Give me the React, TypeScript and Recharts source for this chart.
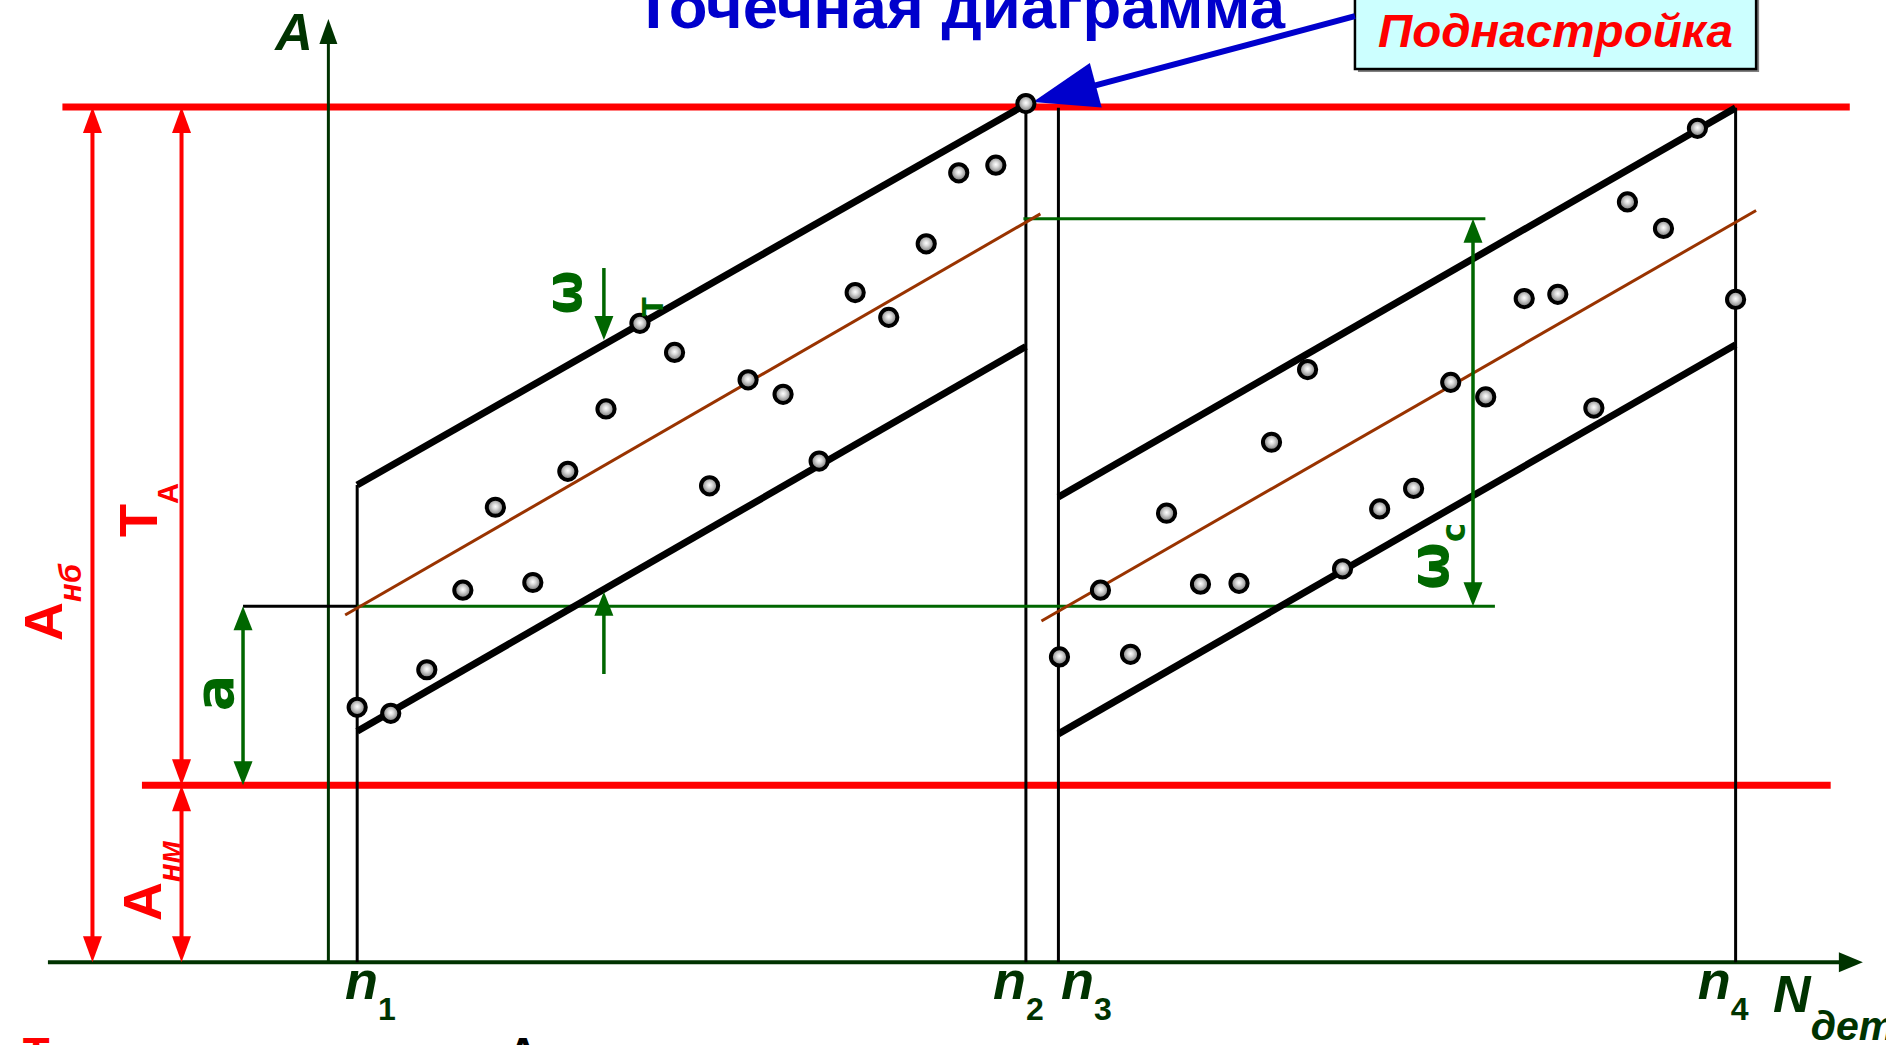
import React from 'react';
import {
  ComposedChart,
  XAxis,
  YAxis,
  Scatter,
  ReferenceLine,
  ReferenceDot,
  ReferenceArea,
} from 'recharts';

// N = part number (horizontal), A = measured dimension (vertical)

// resetting moments n1..n4 and the tops of their vertical marks
const nMarks = [1, 19.92, 20.84, 40.0];
const nTopsA = [55.8, 100.3, 99.9, 99.9];
const nSubs = ['1', '2', '3', '4'];

// tolerance limits: A_нм, A_нб
const limitsA = [20.68, 100];
// setting levels (lower = a, upper = end of ω_c)
const setupA = [41.63, 86.92];

// first batch of parts (n1..n2)
const batch1N = [1, 1.95, 2.97, 3.99, 4.91, 5.97, 6.96, 8.04, 9.0, 9.98, 10.97, 12.06, 13.05, 14.07, 15.09, 16.04, 17.1, 18.02, 19.07, 19.92];
const batch1A = [29.8, 29.1, 34.2, 43.5, 53.2, 44.4, 57.4, 64.7, 74.7, 71.3, 55.7, 68.1, 66.4, 58.6, 78.3, 75.4, 84.0, 92.3, 93.2, 100.4];

// second batch of parts (n3..n4)
const batch2N = [20.87, 22.03, 22.88, 23.9, 24.86, 25.95, 26.87, 27.89, 28.88, 29.93, 30.89, 31.94, 32.93, 34.02, 34.97, 35.99, 36.94, 37.96, 38.92, 40.0];
const batch2A = [35.7, 43.5, 36.0, 52.5, 44.2, 44.3, 60.8, 69.3, 46.0, 53.0, 55.4, 67.8, 66.1, 77.6, 78.1, 64.8, 88.9, 85.8, 97.5, 77.5];

// scatter band boundaries and centre lines, [N, A] end points
const band1Top = [[1, 55.8], [19.92, 100.3]];
const band1Bottom = [[1, 27.0], [19.92, 72.0]];
const band1Mid = [[0.66, 40.6], [20.33, 87.5]];
const band2Top = [[20.84, 54.4], [40.0, 99.9]];
const band2Bottom = [[20.84, 26.7], [40.0, 72.2]];
const band2Mid = [[20.36, 39.9], [40.58, 87.9]];

const X_DOMAIN = [-9.106, 44.255];
const Y_DOMAIN = [-9.68, 112.51];

const SANS = '"Liberation Sans", Arial, sans-serif';
const DEJAVU = '"DejaVu Sans", Verdana, sans-serif';
const RED = '#ff0000';
const GREEN = '#006600';
const DARK = '#003300';
const BROWN = '#993300';
const BLUE = '#0000cc';

const batch1 = batch1N.map((n, i) => ({ n, a: batch1A[i] }));
const batch2 = batch2N.map((n, i) => ({ n, a: batch2A[i] }));

type ArrowOpts = {
  color: string;
  width: number;
  head?: number;
  half?: number;
  start?: boolean;
  end?: boolean;
};

// line with optional arrow heads, drawn from the pixel ends the reference line gets
const arrowShape = ({ color, width, head = 24, half = 9.5, start = false, end = false }: ArrowOpts) =>
  (p: any) => {
    const { x1, y1, x2, y2 } = p;
    const len = Math.hypot(x2 - x1, y2 - y1) || 1;
    const ux = (x2 - x1) / len;
    const uy = (y2 - y1) / len;
    const tri = (tx: number, ty: number, dx: number, dy: number) => {
      const bx = tx - dx * head;
      const by = ty - dy * head;
      return `${tx},${ty} ${bx - dy * half},${by + dx * half} ${bx + dy * half},${by - dx * half}`;
    };
    const sx = start ? x1 + ux * head * 0.8 : x1;
    const sy = start ? y1 + uy * head * 0.8 : y1;
    const ex = end ? x2 - ux * head * 0.8 : x2;
    const ey = end ? y2 - uy * head * 0.8 : y2;
    return (
      <g>
        <line x1={sx} y1={sy} x2={ex} y2={ey} stroke={color} strokeWidth={width} />
        {start && <polygon points={tri(x1, y1, -ux, -uy)} fill={color} />}
        {end && <polygon points={tri(x2, y2, ux, uy)} fill={color} />}
      </g>
    );
  };

const seg = (key: string, pts: number[][], shape: (p: any) => React.ReactElement) => (
  <ReferenceLine
    key={key}
    segment={[{ x: pts[0][0], y: pts[0][1] }, { x: pts[1][0], y: pts[1][1] }]}
    ifOverflow="visible"
    shape={shape}
  />
);

// text anchored at a data point
const note = (key: string, n: number, a: number, render: (x: number, y: number) => React.ReactElement) => (
  <ReferenceDot
    key={key}
    x={n}
    y={a}
    r={1}
    ifOverflow="visible"
    shape={(p: any) => render(p.cx, p.cy)}
  />
);

const rot = (x: number, y: number) => `rotate(-90 ${x} ${y})`;

const Point = (p: any) => (
  <circle cx={p.cx} cy={p.cy} r={8.6} fill="url(#ptGrad)" stroke="#000" strokeWidth={4} />
);

const BoxShape = (p: any) => (
  <g>
    <rect x={p.x + 3} y={p.y + 3} width={p.width} height={p.height} fill="#808080" />
    <rect x={p.x} y={p.y} width={p.width} height={p.height} fill="#ccffff" stroke="#000" strokeWidth={2.5} />
  </g>
);

const App: React.FC = () => {
  const thick = arrowShape({ color: '#000', width: 7 });
  const thin = arrowShape({ color: '#000', width: 3 });
  const brown = arrowShape({ color: BROWN, width: 3 });
  const greenLine = arrowShape({ color: GREEN, width: 3 });
  const redLine = arrowShape({ color: RED, width: 7 });
  const redDim = arrowShape({ color: RED, width: 4, head: 26, start: true, end: true });
  const greenDim = arrowShape({ color: GREEN, width: 3.5, start: true, end: true });
  const greenEnd = arrowShape({ color: GREEN, width: 3.5, end: true });

  const [aLow, aHigh] = limitsA;
  const [aSet, aSet2] = setupA;

  return (
    <div style={{ position: 'absolute', left: 0, top: 0, width: 1886, height: 1045, background: '#fff' }}>
      <ComposedChart width={1886} height={1045} margin={{ top: 0, right: 0, bottom: 0, left: 0 }}>
        <defs>
          <radialGradient id="ptGrad" cx="50%" cy="46%" r="52%">
            <stop offset="0%" stopColor="#ffffff" />
            <stop offset="30%" stopColor="#dcdcdc" />
            <stop offset="100%" stopColor="#6e6e6e" />
          </radialGradient>
        </defs>
        <XAxis type="number" dataKey="n" domain={X_DOMAIN} allowDataOverflow hide />
        <YAxis type="number" dataKey="a" domain={Y_DOMAIN} allowDataOverflow hide />

        {/* tolerance limits */}
        {seg('limHi', [[-7.34, aHigh], [43.23, aHigh]], redLine)}
        {seg('limLo', [[-5.09, aLow], [42.69, aLow]], redLine)}

        {/* axes */}
        {seg('axX', [[-7.75, 0], [43.6, 0]], arrowShape({ color: DARK, width: 4, head: 24, half: 10, end: true }))}
        {seg('axY', [[0.185, 0], [0.185, 110.3]], arrowShape({ color: DARK, width: 3, head: 25, half: 9, end: true }))}

        {/* resetting marks */}
        {nMarks.map((n, i) => seg(`n${i}`, [[n, 0], [n, nTopsA[i]]], thin))}

        {/* setting levels */}
        {seg('setBlack', [[-2.23, aSet], [1, aSet]], thin)}
        {seg('setLo', [[1, aSet], [33.19, aSet]], greenLine)}
        {seg('setHi', [[19.85, aSet2], [32.92, aSet2]], greenLine)}

        {/* centre lines and bands */}
        {seg('mid1', band1Mid, brown)}
        {seg('mid2', band2Mid, brown)}
        {seg('b1t', band1Top, thick)}
        {seg('b1b', band1Bottom, thick)}
        {seg('b2t', band2Top, thick)}
        {seg('b2b', band2Bottom, thick)}

        {/* dimension arrows */}
        {seg('dimNb', [[-6.49, 0], [-6.49, aHigh]], redDim)}
        {seg('dimT', [[-3.97, aLow], [-3.97, aHigh]], redDim)}
        {seg('dimNm', [[-3.97, 0], [-3.97, aLow]], redDim)}
        {seg('dimA', [[-2.23, aLow], [-2.23, aSet]], greenDim)}
        {seg('dimWc', [[32.57, aSet], [32.57, aSet2]], greenDim)}
        {seg('dimW1', [[7.98, 81.17], [7.98, 72.76]], greenEnd)}
        {seg('dimW2', [[7.98, 33.7], [7.98, 43.32]], greenEnd)}

        <Scatter data={batch1} shape={Point} isAnimationActive={false} />
        <Scatter data={batch2} shape={Point} isAnimationActive={false} />

        {/* call-out */}
        <ReferenceArea x1={29.23} x2={40.58} y1={104.44} y2={114} ifOverflow="visible" shape={BoxShape} />
        {seg('callout', [[29.23, 110.62], [20.12, 100.58]], arrowShape({ color: BLUE, width: 6, head: 65, half: 23, end: true }))}

        {note('title', 8.83, 109.24, (x, y) => (
          <text x={x} y={y} fontFamily={SANS} fontWeight="bold" fontSize={62} fill={BLUE} textLength={651} lengthAdjust="spacingAndGlyphs">
            Точечная диаграмма
          </text>
        ))}
        {note('box', 29.88, 107.01, (x, y) => (
          <text x={x} y={y} fontFamily={SANS} fontWeight="bold" fontStyle="italic" fontSize={47} fill={RED} textLength={355} lengthAdjust="spacingAndGlyphs">
            Поднастройка
          </text>
        ))}

        {/* axis names */}
        {note('axA', -0.79, 106.67, (x, y) => (
          <text x={x} y={y} textAnchor="middle" fontFamily={SANS} fontWeight="bold" fontStyle="italic" fontSize={52} fill={DARK}>A</text>
        ))}
        {note('axN', 41.06, -5.82, (x, y) => (
          <text x={x} y={y} fontFamily={SANS} fontWeight="bold" fontStyle="italic" fontSize={52} fill={DARK}>
            N<tspan dy={28} fontSize={41}>дет</tspan>
          </text>
        ))}
        {[0.655, 18.99, 20.91, 38.93].map((n, i) =>
          note(`nl${i}`, n, -4.3, (x, y) => (
            <text x={x} y={y} fontFamily={SANS} fontWeight="bold" fontSize={54} fill={DARK}>
              <tspan fontStyle="italic">n</tspan>
              <tspan dy={21} fontSize={32}>{nSubs[i]}</tspan>
            </text>
          )),
        )}

        {/* dimension names */}
        {note('lNb', -7.35, 37.56, (x, y) => (
          <text x={x} y={y} transform={rot(x, y)} fontFamily={SANS} fontWeight="bold" fontSize={54} fill={RED}>
            A<tspan dy={19} fontSize={31} fontStyle="italic">нб</tspan>
          </text>
        ))}
        {note('lT', -4.66, 49.72, (x, y) => (
          <text x={x} y={y} transform={rot(x, y)} fontFamily={SANS} fontWeight="bold" fontSize={54} fill={RED}>
            T<tspan dy={21} fontSize={29}>A</tspan>
          </text>
        ))}
        {note('lNm', -4.55, 4.82, (x, y) => (
          <text x={x} y={y} transform={rot(x, y)} fontFamily={SANS} fontWeight="bold" fontSize={54} fill={RED}>
            A<tspan dy={19} fontSize={31} fontStyle="italic">нм</tspan>
          </text>
        ))}
        {note('la', -2.51, 31.48, (x, y) => (
          <text x={x} y={y} transform={rot(x, y)} textAnchor="middle" fontFamily={DEJAVU} fontWeight="bold" fontSize={54} fill={GREEN}>a</text>
        ))}
        {note('lw', 7.33, 78.31, (x, y) => (
          <text x={x} y={y} transform={rot(x, y)} textAnchor="middle" fontFamily={DEJAVU} fontWeight="bold" fontSize={51} fill={GREEN}>ω</text>
        ))}
        {note('lwt', 9.65, 76.61, (x, y) => (
          <text x={x} y={y} transform={rot(x, y)} textAnchor="middle" fontFamily={DEJAVU} fontWeight="bold" fontSize={28} fill={GREEN}>Т</text>
        ))}
        {note('lwc', 31.86, 43.52, (x, y) => (
          <text x={x} y={y} transform={rot(x, y)} fontFamily={DEJAVU} fontWeight="bold" fontSize={55} fill={GREEN}>
            ω<tspan dy={17} fontSize={33}>c</tspan>
          </text>
        ))}

        {/* caption cut by the bottom edge, as in the source slide */}
        {note('cap1', -8.46, -12.43, (x, y) => (
          <text x={x} y={y} fontFamily={SANS} fontWeight="bold" fontSize={44} fill={RED}>Т</text>
        ))}
        {note('cap2', -5.15, -12.43, (x, y) => (
          <text x={x} y={y} fontFamily={SANS} fontWeight="bold" fontSize={30} fill="#000" textLength={340} lengthAdjust="spacingAndGlyphs">
            – поле допуска размера
          </text>
        ))}
        {note('cap3', 5.24, -12.43, (x, y) => (
          <text x={x} y={y} fontFamily={SANS} fontWeight="bold" fontSize={44} fill="#000">А</text>
        ))}
      </ComposedChart>
    </div>
  );
};

export default App;
